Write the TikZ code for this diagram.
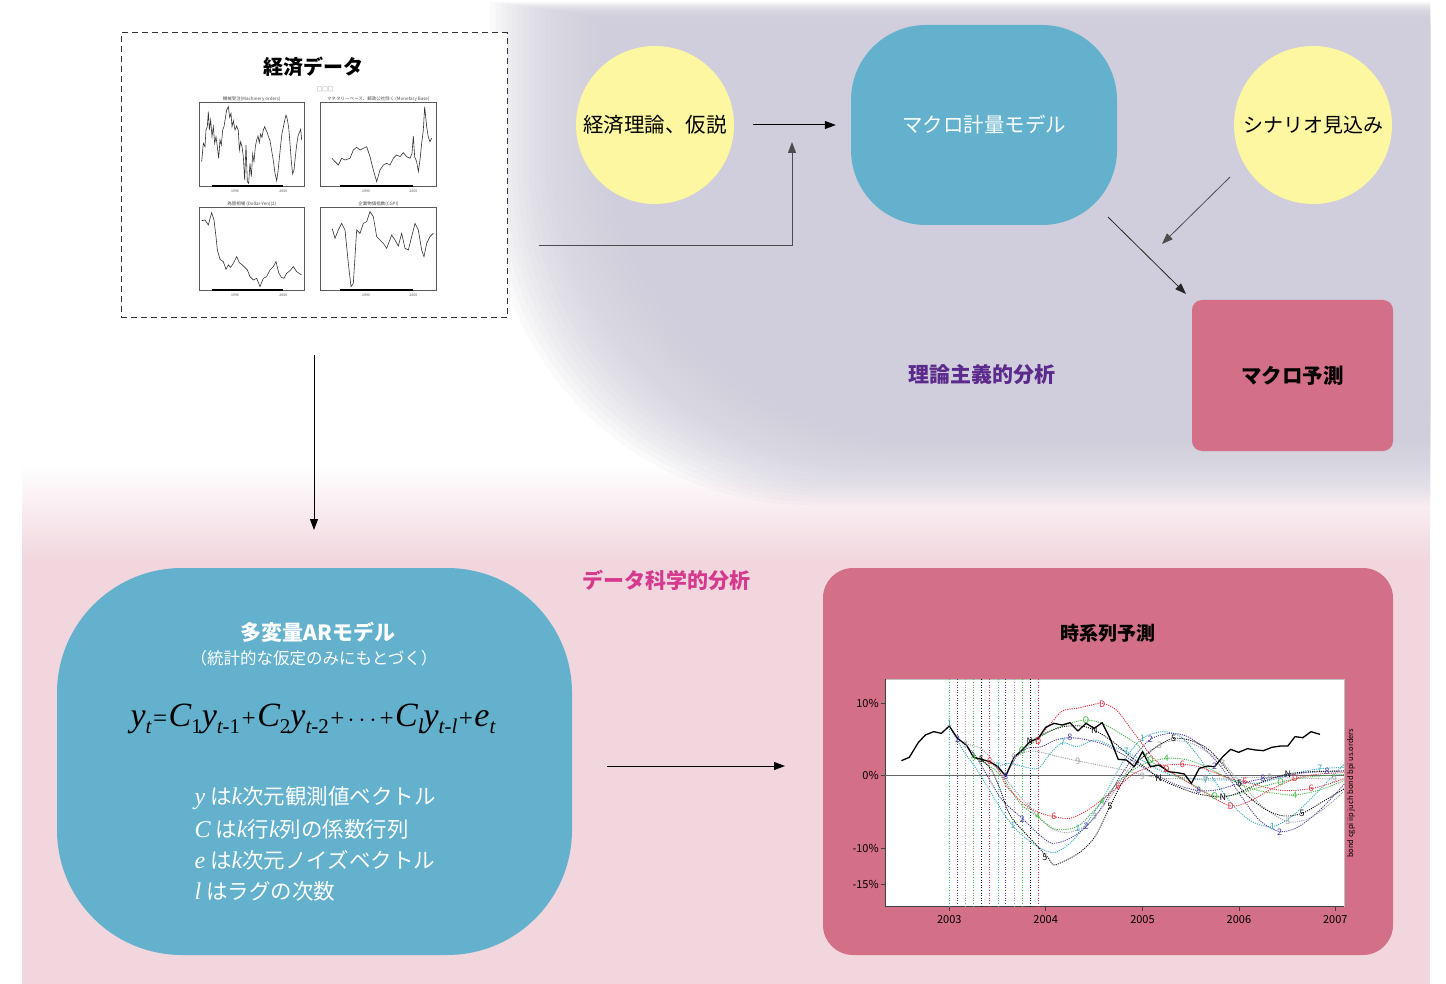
\documentclass[tikz,border=0pt]{standalone}
\usepackage{fontspec}
\setmainfont{Noto Sans CJK JP}
\newfontfamily\tms{Liberation Serif}
\usetikzlibrary{arrows.meta}
\newcommand\fsz[1]{\fontsize{#1}{#1}\selectfont}
\newcommand\fv[1]{{\tms\itshape\fsz{34}#1}}
\newcommand\fsb[1]{\raisebox{-6.5pt}{\tms\fsz{21}#1}}
\newcommand\fop[1]{\hspace{1.5pt}{\tms\fsz{25}#1}\hspace{1.5pt}}
\newcommand\iv[1]{{\tms\itshape\fsz{24}#1}}
\definecolor{lav}{HTML}{D0CEDC}
\definecolor{pinkbg}{HTML}{F1D6DE}
\definecolor{yel}{HTML}{FCF7A0}
\definecolor{blu}{HTML}{63B1CD}
\definecolor{rosebox}{HTML}{D36F86}
\definecolor{purp}{HTML}{5C2A8C}
\definecolor{mag}{HTML}{D63A8E}
\definecolor{c1}{HTML}{3AAFC0}
\definecolor{c2}{HTML}{4A3DA8}
\definecolor{c3}{HTML}{A0A0AA}
\definecolor{c4}{HTML}{45B848}
\definecolor{c5}{HTML}{111111}
\definecolor{c6}{HTML}{E0303F}
\tikzset{
  arr/.style={-{Triangle[length=11pt,width=8pt]}, line width=1pt, draw=black},
  garr/.style={-{Triangle[length=11pt,width=8pt]}, line width=0.9pt, draw=black!70},
  fc/.style={dash pattern=on 1.1pt off 1.1pt, line width=0.9pt},
  vl/.style={dash pattern=on 1pt off 1.6pt, line width=0.6pt},
  lab/.style={font=\fsz{9}, inner sep=0pt},
  mini/.style={line width=0.6pt, draw=black!80},
  minibox/.style={line width=0.6pt, draw=black!65},
}
\begin{document}
\begin{tikzpicture}[x=1pt,y=-1pt]
\useasboundingbox (0,0) rectangle (1446,984);
\fill[white] (0,0) rectangle (1446,984);
% pink lower background
\fill[pinkbg] (22,560) rectangle (1430,984);
\shade[top color=white, bottom color=pinkbg] (22,465) rectangle (1430,561);
% lavender upper background (blurred by layers)
\foreach \i in {0,...,35} {
  \pgfmathsetmacro\L{490+5.5*\i}
  \pgfmathsetmacro\T{2+0.8*\i}
  \pgfmathsetmacro\B{505-3.2*\i}
  \pgfmathsetmacro\R{320}
  \fill[lav, fill opacity=0.1] (\L,\T) -- (\L,\B-\R) .. controls (\L,\B-0.448*\R) and (\L+0.448*\R,\B) .. (\L+\R,\B) -- (1430,\B) -- (1430,\T) -- cycle;
}

% ---------- data box ----------
\node[draw=black!80, dash pattern=on 6pt off 4pt, line width=1pt, fill=white, minimum width=386pt, minimum height=285pt, inner sep=0] (data) at (314,175.5) {};
\node[font=\fsz{20}\bfseries] (dtitle) at (313,67) {経済データ};
\node[font=\fsz{5.5}, text=black!60] (dsq) at (325,89) {□□□};
\begin{scope}[shift={(120,30)}, scale=1/3]
  \draw[minibox] (237,218) rectangle (553,468);
  \draw[minibox] (600,218) rectangle (950,468);
  \draw[minibox] (237,533) rectangle (553,780);
  \draw[minibox] (600,533) rectangle (950,780);
  \draw[line width=1.2pt] (275,468) -- (490,468);
  \draw[line width=1.2pt] (660,468) -- (880,468);
  \draw[line width=1.2pt] (275,780) -- (490,780);
  \draw[line width=1.2pt] (660,780) -- (880,780);
  \node[font=\fsz{4.5}, text=black!70] (t1) at (395,208) {機械受注(Machinery orders)};
  \node[font=\fsz{4.5}, text=black!70] (t2) at (775,208) {マネタリーベース、郵政公社除く (Monetary Base)};
  \node[font=\fsz{4.5}, text=black!70] (t3) at (395,522) {為替相場 (Dollar-Yen)(2)};
  \node[font=\fsz{4.5}, text=black!70] (t4) at (775,522) {企業物価指数(CGPI)};
  \foreach \x/\y/\s in {345/485/1990,490/485/2000,738/485/1990,880/485/2000,345/797/1990,490/797/2000,738/797/1990,880/797/2000}
    \node[font=\fsz{3.5}, text=black!70] at (\x,\y) {\s};
  \draw[mini] (245,395)--(250,340)--(255,350)--(258,300)--(262,290)--(265,245)--(268,300)--(272,270)--(276,320)--(280,290)--(284,340)--(288,320)--(292,350)--(296,385)--(300,330)--(304,345)--(308,300)--(312,290)--(316,265)--(320,240)--(325,230)--(329,262)--(333,250)--(336,290)--(340,272)--(345,300)--(350,288)--(355,302)--(358,360)--(362,335)--(366,350)--(370,380)--(374,450)--(378,345)--(382,455)--(386,460)--(390,400)--(394,440)--(398,372)--(402,395)--(406,350)--(410,330)--(414,318)--(418,338)--(422,312)--(426,322)--(430,300)--(434,290)--(438,300)--(442,308)--(446,322)--(450,332)--(455,362)--(460,392)--(465,430)--(470,452)--(474,425)--(478,385)--(482,345)--(486,310)--(490,292)--(494,272)--(498,255)--(502,268)--(506,292)--(510,340)--(514,395)--(518,432)--(522,420)--(526,380)--(530,345)--(534,318)--(538,308)--(542,298)--(545,330);
  \draw[mini] (636,385)--(645,395)--(655,405)--(665,385)--(675,390)--(690,385)--(700,360)--(710,352)--(720,360)--(730,355)--(740,350)--(750,380)--(760,420)--(770,455)--(780,420)--(790,405)--(800,400)--(810,405)--(820,385)--(830,375)--(840,380)--(850,368)--(860,380)--(870,385)--(876,370)--(880,318)--(884,380)--(890,395)--(895,425)--(900,390)--(905,340)--(910,300)--(914,230)--(920,290)--(925,322)--(930,335)--(935,325);
  \draw[mini] (245,572)--(255,570)--(265,585)--(275,548)--(282,570)--(288,620)--(292,660)--(300,688)--(310,695)--(318,718)--(325,705)--(332,712)--(340,700)--(350,680)--(358,698)--(366,704)--(374,712)--(382,720)--(390,740)--(400,750)--(410,745)--(420,770)--(430,745)--(440,740)--(450,720)--(460,710)--(468,695)--(476,728)--(484,742)--(492,745)--(500,730)--(510,722)--(520,710)--(530,725)--(545,735);
  \draw[mini] (637,597)--(645,625)--(655,600)--(665,580)--(675,600)--(685,700)--(693,770)--(700,760)--(710,600)--(720,610)--(730,580)--(740,575)--(750,545)--(760,560)--(770,620)--(780,630)--(790,640)--(800,655)--(815,615)--(825,630)--(835,648)--(845,610)--(855,655)--(865,660)--(875,620)--(885,580)--(895,600)--(905,660)--(912,680)--(920,640)--(930,620)--(940,610);
\end{scope}

% ---------- top diagram ----------
\node[circle, fill=yel, minimum size=158pt, inner sep=0, font=\fsz{20.5}] (theory) at (655,125) {経済理論、仮説};
\node[circle, fill=yel, minimum size=158pt, inner sep=0, font=\fsz{20}] (scen) at (1313,125) {シナリオ見込み};
\node[fill=blu, rounded corners=75pt, minimum width=266pt, minimum height=200pt, text=white, font=\fsz{20.5}] (macro) at (984,125) {マクロ計量モデル};
\node[fill=rosebox, rounded corners=10pt, minimum width=201pt, minimum height=151pt, font=\fsz{20.5}\bfseries] (fcst) at (1292.5,375.5) {マクロ予測};
\node[text=purp, font=\fsz{21}\bfseries] (lab1) at (982,375) {理論主義的分析};

\draw[arr, shorten <=19pt, shorten >=15pt] (theory.east) -- (macro.west);
\coordinate (j1) at (538,245);
\coordinate (j2) at (792,142);
\draw[garr, shorten <=31pt] (data.east |- j1) -| (j2);
\coordinate (s1) at (1230,177);
\coordinate (s2) at (1162,244);
\draw[garr, line width=0.8pt] (s1) -- (s2);
\coordinate (m1) at (1108,217);
\coordinate (m2) at (1186,294);
\draw[garr, line width=0.8pt, draw=black!85] (m1) -- (m2);

% ---------- bottom diagram ----------
\draw[arr, line width=0.9pt, shorten <=36pt, shorten >=38pt] (data.south) -- (data.south |- 0,568);
\node[text=mag, font=\fsz{21}\bfseries] (lab2) at (666,580) {データ科学的分析};

\node[fill=blu, rounded corners=125pt, minimum width=515pt, minimum height=387pt] (ar) at (314.5,761.5) {};
\node[text=white, font=\fsz{21}\bfseries] (artitle) at (318,632) {多変量ARモデル};
\node[text=white, font=\fsz{16.5}] (arsub) at (314,658) {（統計的な仮定のみにもとづく）};
\node (eq) at (313,719) {\fv{y}\fsb{\itshape t}\fop{=}\fv{C}\fsb{1}\fv{y}\fsb{{\itshape t}-1}\fop{+}\fv{C}\fsb{2}\fv{y}\fsb{{\itshape t}-2}\fop{+}\fop{$\cdots$}\fop{+}\fv{C}\fsb{\itshape l}\fv{y}\fsb{\itshape t-l}\fop{+}\fv{e}\fsb{\itshape t}};
\node[anchor=west, text=white, font=\fsz{21.5}] (d1) at (191,798) {\iv{y} は\iv{k}次元観測値ベクトル};
\node[anchor=west, text=white, font=\fsz{21.5}] (d2) at (191,829) {\iv{C} は\iv{k}行\iv{k}列の係数行列};
\node[anchor=west, text=white, font=\fsz{21.5}] (d3) at (191,860) {\iv{e} は\iv{k}次元ノイズベクトル};
\node[anchor=west, text=white, font=\fsz{21.5}] (d4) at (191,891) {\iv{l} はラグの次数};

\coordinate (a1) at (607,766);
\coordinate (a2) at (785,766);
\draw[arr] (a1) -- (a2);

\node[fill=rosebox, rounded corners=30pt, minimum width=570pt, minimum height=387pt] (ts) at (1108,761.5) {};
\node[font=\fsz{19}\bfseries] (tstitle) at (1108,633) {時系列予測};

% ---------- chart ----------
\begin{scope}[shift={(820,670)}, xscale=1/2.8, yscale=1/3]
  \fill[white] (182,28) rectangle (1468,710);
  \draw[black!25, line width=0.6pt] (182,28) rectangle (1468,710);
  \draw[black!75, line width=0.8pt] (182,28) -- (182,710) -- (1468,710);
  \draw[black!60, line width=0.6pt] (182,316) -- (1468,316);
  \foreach \y/\s in {100/10\%,316/0\%,535/-10\%,643/-15\%} {
    \draw[black!75, line width=0.6pt] (170,\y) -- (182,\y);
    \node[anchor=east, font=\fsz{11}, inner sep=0] at (165,\y) {\s};
  }
  \foreach \x/\s in {362/2003,632/2004,903/2005,1173/2006,1443/2007} {
    \draw[black!75, line width=0.6pt] (\x,710) -- (\x,724);
    \node[font=\fsz{11}, inner sep=0] at (\x,750) {\s};
  }
  \node[rotate=90, font=\fsz{7.5}, inner sep=0] at (1487,370) {bond cgpi iip juch bond bpi us.orders};
  \begin{scope}
  \clip (182,28) rectangle (1468,710);
  \foreach \x/\c in {362/c1,385/c2,408/c3,430/c4,452/c5,475/c6,498/c1,520/c2,543/c3,566/c4,588/c5,611/c6}
    \draw[\c, vl] (\x,28) -- (\x,710);
  % forecasts
  \draw[c1, fc] plot[smooth] coordinates {(362,168) (400,240) (440,300) (480,370) (520,440) (560,490) (610,530) (655,548) (700,520) (740,470) (790,390) (840,290) (880,230) (910,200) (960,185) (1010,200) (1060,260) (1110,340) (1160,410) (1210,455) (1267,470) (1320,440) (1380,380) (1470,280)};
  \draw[c2, fc] plot[smooth] coordinates {(385,205) (430,250) (470,320) (510,390) (566,445) (610,490) (650,520) (700,505) (745,470) (790,410) (840,320) (880,260) (925,208) (980,190) (1030,200) (1080,240) (1130,300) (1180,380) (1230,450) (1287,485) (1340,470) (1400,420) (1470,340)};
  \draw[c3, fc] plot[smooth] coordinates {(408,222) (450,235) (490,280) (530,340) (585,410) (640,470) (690,488) (740,470) (770,440) (820,370) (870,290) (920,250) (950,225) (990,212) (1040,220) (1090,250) (1128,280) (1180,340) (1240,410) (1310,455) (1370,445) (1430,400) (1470,360)};
  \draw[c4, fc] plot[smooth] coordinates {(430,262) (470,285) (510,320) (560,400) (610,440) (660,478) (720,470) (760,430) (790,395) (840,330) (900,285) (970,265) (1030,270) (1090,295) (1150,330) (1220,360) (1290,372) (1330,375) (1400,360) (1470,330)};
  \draw[c5, fc] plot[smooth] coordinates {(452,268) (480,300) (505,360) (525,420) (545,455) (575,490) (610,530) (640,565) (655,585) (690,570) (730,545) (770,500) (812,410) (850,330) (900,265) (950,225) (990,205) (1040,212) (1090,240) (1140,300) (1190,370) (1250,420) (1300,438) (1350,430) (1400,400) (1470,355)};
  \draw[c6, fc] plot[smooth] coordinates {(475,275) (500,300) (520,345) (545,375) (580,410) (620,430) (655,440) (700,445) (750,420) (800,380) (835,350) (880,310) (930,290) (970,285) (1015,283) (1060,290) (1110,310) (1160,330) (1190,335) (1240,350) (1300,362) (1375,356) (1430,340) (1470,325)};
  \draw[c1, fc] plot[smooth] coordinates {(498,290) (530,280) (570,290) (611,295) (645,250) (680,218) (720,230) (770,210) (820,230) (858,245) (900,270) (950,300) (1000,320) (1080,330) (1150,330) (1220,340) (1300,320) (1350,305) (1400,296) (1470,292)};
  \draw[c2, fc] plot[smooth] coordinates {(520,318) (550,260) (580,235) (620,230) (660,210) (700,203) (750,210) (800,225) (850,255) (900,290) (950,320) (1000,345) (1060,362) (1110,360) (1160,345) (1200,335) (1240,326) (1300,318) (1360,308) (1420,304) (1470,303)};
  \draw[c3, fc] plot[smooth] coordinates {(543,262) (580,245) (611,245) (660,258) (722,273) (780,285) (850,300) (903,315) (960,325) (1000,326) (1080,326) (1180,323) (1260,322) (1350,325) (1440,327) (1470,327)};
  \draw[c4, fc] plot[smooth] coordinates {(566,240) (600,215) (640,185) (700,160) (745,150) (790,160) (840,190) (890,225) (925,272) (970,300) (1020,330) (1070,360) (1105,378) (1160,375) (1220,355) (1290,336) (1360,322) (1440,315) (1470,314)};
  \draw[c5, fc] plot[smooth] coordinates {(588,215) (630,190) (680,170) (730,168) (768,180) (820,215) (870,260) (920,300) (948,325) (1000,350) (1060,372) (1128,381) (1180,365) (1240,335) (1310,312) (1380,305) (1470,303)};
  \draw[c6, fc] plot[smooth] coordinates {(611,205) (650,155) (680,122) (720,115) (760,105) (790,100) (830,120) (880,190) (930,260) (970,298) (1020,330) (1080,370) (1150,408) (1200,395) (1260,360) (1330,326) (1400,312) (1470,308)};
  % actual
  \draw[black, line width=1.3pt, line join=round] (228,272) -- (250,262) -- (275,218) -- (295,195) -- (318,185) -- (340,190) -- (362,168) -- (385,205) -- (410,225) -- (430,262) -- (452,268) -- (475,275) -- (498,290) -- (520,318) -- (543,262) -- (566,240) -- (588,215) -- (611,205) -- (632,172) -- (655,160) -- (678,165) -- (700,158) -- (722,183) -- (745,160) -- (768,175) -- (790,158) -- (812,205) -- (835,268) -- (858,270) -- (880,290) -- (903,245) -- (925,290) -- (950,285) -- (975,305) -- (1000,308) -- (1020,312) -- (1040,340) -- (1062,295) -- (1085,288) -- (1105,290) -- (1128,260) -- (1150,238) -- (1172,247) -- (1197,236) -- (1220,240) -- (1242,242) -- (1265,232) -- (1290,228) -- (1310,228) -- (1330,200) -- (1352,203) -- (1375,185) -- (1400,193);
  \end{scope}
  % labels
  \foreach \x/\y in {362/160,540/465,722/475,903/205,1267/470} \node[lab, text=c1] at (\x,\y) {1};
  \foreach \x/\y in {385/208,566/448,745/470,925/208,1105/290,1287/487} \node[lab, text=c2] at (\x,\y) {2};
  \foreach \x/\y in {408/222,585/410,768/440,950/225,1128/280,1310/455} \node[lab, text=c3] at (\x,\y) {3};
  \foreach \x/\y in {430/262,610/440,790/395,970/265,1330/375} \node[lab, text=c4] at (\x,\y) {4};
  \foreach \x/\y in {452/268,630/562,812/410,990/205,1175/340,1350/430} \node[lab, text=c5] at (\x,\y) {5};
  \foreach \x/\y in {475/275,655/440,835/350,1015/283,1190/335,1375/356} \node[lab, text=c6] at (\x,\y) {6};
  \foreach \x/\y in {498/290,680/218,858/245,1080/330,1400/296} \node[lab, text=c1] at (\x,\y) {7};
  \foreach \x/\y in {520/318,700/203,1060/362,1240/326,1420/304} \node[lab, text=c2] at (\x,\y) {8};
  \foreach \x/\y in {543/262,722/273,903/318,1080/326,1260/322,1440/327} \node[lab, text=c3] at (\x,\y) {9};
  \foreach \x/\y in {566/242,745/150,925/272,1105/378,1290/336} \node[lab, text=c4] at (\x,\y) {O};
  \foreach \x/\y in {588/213,768/180,948/325,1128/381,1310/312} \node[lab, text=c5] at (\x,\y) {N};
  \foreach \x/\y in {611/213,790/103,970/298,1150/408,1330/326} \node[lab, text=c6] at (\x,\y) {D};
\end{scope}
\end{tikzpicture}
\end{document}
